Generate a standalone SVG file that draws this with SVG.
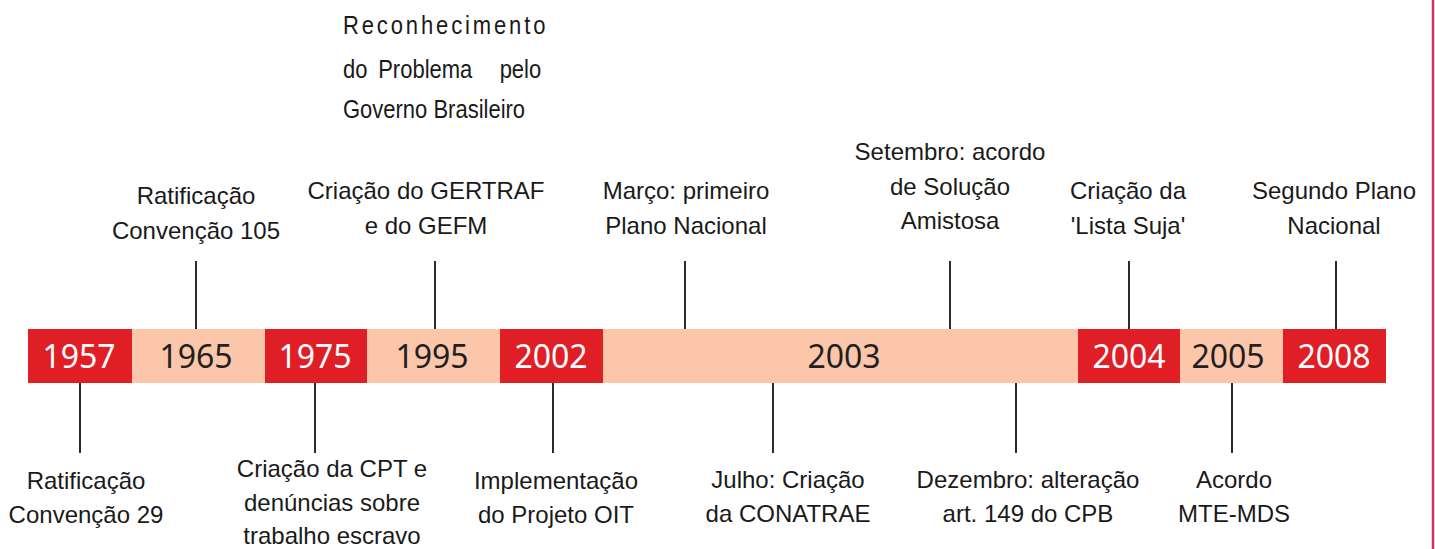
<svg xmlns="http://www.w3.org/2000/svg" width="1435" height="549" viewBox="0 0 1435 549">
<style>
.red{fill:#e01e26}
.peach{fill:#fbc6aa}
.yr{font-family:"Noto Sans","Open Sans",sans-serif;font-size:32px;text-anchor:middle}
.yw{fill:#ffffff}
.yd{fill:#231f20}
.lbl{font-family:"Liberation Sans",Arial,sans-serif;font-size:24px;fill:#1a1a1a;text-anchor:middle}
.top{font-family:"Liberation Sans",Arial,sans-serif;font-size:25px;fill:#1a1a1a}
.tick{stroke:#2b2b2b;stroke-width:2;fill:none}
</style>
<rect x="0" y="0" width="1435" height="549" fill="#ffffff"/>
<line x1="1433" y1="0" x2="1433" y2="549" stroke="#c13a62" stroke-width="2.5"/>

<g id="connectors">
<line class="tick" x1="196" y1="261" x2="196" y2="329"/>
<line class="tick" x1="435" y1="261" x2="435" y2="329"/>
<line class="tick" x1="685" y1="261" x2="685" y2="329"/>
<line class="tick" x1="950" y1="261" x2="950" y2="329"/>
<line class="tick" x1="1129" y1="261" x2="1129" y2="329"/>
<line class="tick" x1="1336" y1="261" x2="1336" y2="329"/>
<line class="tick" x1="80" y1="383" x2="80" y2="453"/>
<line class="tick" x1="315" y1="383" x2="315" y2="453"/>
<line class="tick" x1="553" y1="383" x2="553" y2="453"/>
<line class="tick" x1="773" y1="383" x2="773" y2="453"/>
<line class="tick" x1="1016" y1="383" x2="1016" y2="453"/>
<line class="tick" x1="1232" y1="383" x2="1232" y2="453"/>
</g>

<g id="y1957"><rect class="red" x="28" y="329" width="104" height="54"/><text class="yr yw" x="79" y="368">1957</text></g>
<g id="y1965"><rect class="peach" x="132" y="329" width="133" height="54"/><text class="yr yd" x="196" y="368">1965</text></g>
<g id="y1975"><rect class="red" x="265" y="329" width="102" height="54"/><text class="yr yw" x="315" y="368">1975</text></g>
<g id="y1995"><rect class="peach" x="367" y="329" width="133" height="54"/><text class="yr yd" x="432" y="368">1995</text></g>
<g id="y2002"><rect class="red" x="500" y="329" width="103" height="54"/><text class="yr yw" x="551" y="368">2002</text></g>
<g id="y2003"><rect class="peach" x="603" y="329" width="475" height="54"/><text class="yr yd" x="844" y="368">2003</text></g>
<g id="y2004"><rect class="red" x="1078" y="329" width="102" height="54"/><text class="yr yw" x="1129" y="368">2004</text></g>
<g id="y2005"><rect class="peach" x="1180" y="329" width="103" height="54"/><text class="yr yd" x="1228" y="368">2005</text></g>
<g id="y2008"><rect class="red" x="1283" y="329" width="103" height="54"/><text class="yr yw" x="1334" y="368">2008</text></g>

<g id="reconhecimento" transform="translate(343,0) scale(0.88,1)">
<text class="top" x="0" y="34" textLength="230" lengthAdjust="spacing">Reconhecimento</text>
<text class="top" y="78"><tspan x="0">do</tspan><tspan x="40">Problema</tspan><tspan x="178">pelo</tspan></text>
<text class="top" x="0" y="118">Governo Brasileiro</text>
</g>

<g id="n1965"><text class="lbl" x="196" y="204">Ratificação</text><text class="lbl" x="196" y="239">Convenção 105</text></g>
<g id="n1995"><text class="lbl" x="426" y="199">Criação do GERTRAF</text><text class="lbl" x="426" y="234">e do GEFM</text></g>
<g id="nmarco"><text class="lbl" x="686" y="199">Março: primeiro</text><text class="lbl" x="686" y="234">Plano Nacional</text></g>
<g id="nsetembro"><text class="lbl" x="950" y="160">Setembro: acordo</text><text class="lbl" x="950" y="194.5">de Solução</text><text class="lbl" x="950" y="229">Amistosa</text></g>
<g id="n2004"><text class="lbl" x="1128" y="199">Criação da</text><text class="lbl" x="1128" y="234">'Lista Suja'</text></g>
<g id="n2008"><text class="lbl" x="1334" y="199">Segundo Plano</text><text class="lbl" x="1334" y="234">Nacional</text></g>

<g id="n1957"><text class="lbl" x="86" y="489">Ratificação</text><text class="lbl" x="86" y="523">Convenção 29</text></g>
<g id="n1975"><text class="lbl" x="332" y="477">Criação da CPT e</text><text class="lbl" x="332" y="511">denúncias sobre</text><text class="lbl" x="332" y="544">trabalho escravo</text></g>
<g id="n2002"><text class="lbl" x="556" y="489">Implementação</text><text class="lbl" x="556" y="523">do Projeto OIT</text></g>
<g id="njulho"><text class="lbl" x="788" y="488">Julho: Criação</text><text class="lbl" x="788" y="522">da CONATRAE</text></g>
<g id="ndezembro"><text class="lbl" x="1028" y="488">Dezembro: alteração</text><text class="lbl" x="1028" y="522">art. 149 do CPB</text></g>
<g id="n2005"><text class="lbl" x="1234" y="488">Acordo</text><text class="lbl" x="1234" y="522">MTE-MDS</text></g>
</svg>
